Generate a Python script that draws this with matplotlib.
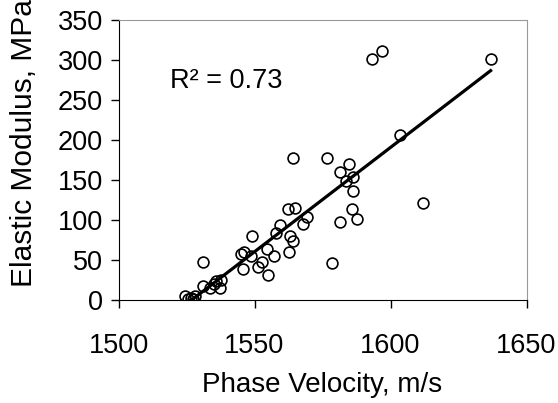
import numpy as np
import matplotlib
matplotlib.use("Agg")
import matplotlib.pyplot as plt

# phase velocity (m/s) vs elastic modulus (MPa)
velocity = [1524.5, 1525.7, 1526.5, 1527.5, 1528.3, 1531.2, 1533.8, 1535.0,
            1536.0, 1537.5, 1537.3, 1531.0, 1545.2, 1546.0, 1545.7, 1548.6,
            1549.0, 1551.2, 1552.6, 1554.5, 1555.0, 1557.3, 1558.0, 1559.4,
            1562.2, 1565.0, 1563.0, 1564.2, 1562.8, 1564.2, 1567.8, 1569.2,
            1576.5, 1578.6, 1581.4, 1581.4, 1583.6, 1584.8, 1585.7, 1586.2,
            1586.2, 1587.8, 1593.3, 1597.0, 1603.5, 1612.0, 1636.8]
modulus = [5.0, 1.0, 2.0, 0.5, 4.0, 17.0, 14.0, 19.0,
           23.0, 24.5, 14.0, 47.0, 57.0, 59.0, 38.0, 54.5,
           80.0, 40.5, 46.7, 63.3, 31.0, 54.0, 83.0, 93.0,
           113.0, 115.0, 79.0, 73.0, 59.0, 176.6, 94.6, 103.0,
           176.6, 45.4, 96.5, 160.0, 148.6, 169.5, 113.0, 153.0,
           136.0, 101.0, 300.5, 310.6, 205.7, 120.4, 300.4]

x_ticks = [1500, 1550, 1600, 1650]
y_ticks = [0, 50, 100, 150, 200, 250, 300, 350]

plt.rcParams["font.family"] = ["Liberation Sans", "DejaVu Sans"]

fig = plt.figure(figsize=(5.58, 4.03), dpi=100)
ax = fig.add_axes([118.5 / 558, 1 - 299.7 / 403, 408 / 558, 280.2 / 403])

x = np.array(velocity)
y = np.array(modulus)
slope, icpt = np.polyfit(x, y, 1)
fit = slope * x + icpt
r2 = 1 - ((y - fit) ** 2).sum() / ((y - y.mean()) ** 2).sum()
print(slope, icpt, r2)

# linear trendline over the data range
xs = np.array([x.min(), x.max()])
ax.plot(xs, slope * xs + icpt, color="black", linewidth=2.3, zorder=3)
ax.plot(x, y, "o", markersize=7.8, markerfacecolor="none",
        markeredgecolor="black", markeredgewidth=1.2, zorder=2)

ax.set_xlim(1500, 1650)
ax.set_ylim(0, 350)
ax.set_xticks(x_ticks)
ax.set_yticks(y_ticks)
ax.tick_params(axis="both", labelsize=19.5, length=6, width=1, color="black")
ax.tick_params(axis="x", pad=18)
ax.tick_params(axis="y", pad=5)

for side in ("left", "bottom"):
    ax.spines[side].set_color("black")
for side in ("top", "right"):
    ax.spines[side].set_color("#999999")

ax.set_xlabel("Phase Velocity, m/s", fontsize=20)
ax.xaxis.set_label_coords(0.5, (299.7 - 372) / 280.2)
# the reference clips the end of this label at the top edge
ax.set_ylabel("Elastic Modulus, MPa", fontsize=21.5, va="center")
ax.yaxis.set_label_coords((24 - 118.5) / 408, (299.7 - 143) / 280.2)

ax.text(0.126, 0.756, "R\u00b2 = 0.73", transform=ax.transAxes,
        fontsize=19.5, ha="left", va="baseline")

fig.savefig("out.png", dpi=100)
